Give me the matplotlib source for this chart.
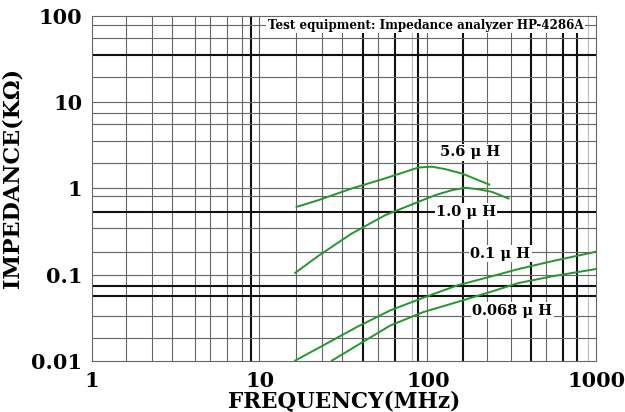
import numpy as np
import matplotlib
matplotlib.use("Agg")
import matplotlib.pyplot as plt

# Courbes d'impédance (MHz, kOhm)
freq_5u6 = [16.5, 22.2, 35.1, 55.5, 73, 87.5, 105, 126, 159, 199, 231]
imp_5u6 = [0.612, 0.731, 1.0, 1.31, 1.56, 1.75, 1.79, 1.68, 1.49, 1.25, 1.11]

freq_1u0 = [16.2, 22.2, 35.1, 55.5, 87.5, 110, 138, 166, 199, 239, 301]
imp_1u0 = [0.105, 0.165, 0.30, 0.49, 0.70, 0.836, 0.955, 1.02, 0.98, 0.915, 0.765]

freq_0u1 = [16.2, 23.7, 37.8, 59.4, 93.4, 149, 234, 343, 547, 1000]
imp_0u1 = [0.0101, 0.0151, 0.0248, 0.0385, 0.054, 0.0751, 0.0948, 0.116, 0.1435, 0.185]

freq_0u068 = [26.8, 37.8, 59.4, 93.4, 149, 234, 343, 547, 1000]
imp_0u068 = [0.0101, 0.0151, 0.0257, 0.0368, 0.0482, 0.063, 0.0798, 0.0958, 0.1165]

curve_labels = ["5.6 μ H", "1.0 μ H", "0.1 μ H", "0.068 μ H"]

x_ticks = [1, 10, 100, 1000]
x_tick_labels = ["1", "10", "100", "1000"]
y_ticks = [0.01, 0.1, 1, 10, 100]
y_tick_labels = ["0.01", "0.1", "1", "10", "100"]

# Quadrillage du papier (lignes fines, épaisses, claires)
x_grid = [1.59, 2.28, 2.99, 4.1, 5.04, 6.36, 7.81, 9.86,
          16.4, 23.4, 30.8, 50.4, 98.6,
          224, 312, 504]
x_grid_thick = [8.84, 41, 63.6, 87.2, 162, 410, 636, 771]
x_grid_light = [80.3, 896]
y_grid = [0.0185, 0.0334, 0.1, 0.185, 0.35, 0.81, 1, 1.95, 3.52, 5.55, 7.45,
          10, 19.5, 55.5, 78.6]
y_grid_thick = [0.057, 0.0745, 0.54, 35.2]

serif = ["DejaVu Serif"]
green = "#1f9a2a"

fig = plt.figure(figsize=(6.25, 4.12), dpi=100)
ax = fig.add_axes([0.147, 0.124, 0.807, 0.837])
ax.set_xscale("log")
ax.set_yscale("log")
ax.set_xlim(1, 1000)
ax.set_ylim(0.01, 100)

for v in x_grid:
    ax.axvline(v, color="#666666", lw=0.8, zorder=1)
for v in x_grid_thick:
    ax.axvline(v, color="#111111", lw=1.5, zorder=1)
for v in x_grid_light:
    ax.axvline(v, color="#bbbbbb", lw=0.8, zorder=1)
for v in y_grid:
    ax.axhline(v, color="#666666", lw=0.8, zorder=1)
for v in y_grid_thick:
    ax.axhline(v, color="#111111", lw=1.5, zorder=1)

for s in ax.spines.values():
    s.set_color("#666666")
    s.set_linewidth(0.8)

ax.plot(freq_5u6, imp_5u6, color=green, lw=1.4, zorder=3)
ax.plot(freq_1u0, imp_1u0, color=green, lw=1.4, zorder=3)
ax.plot(freq_0u1, imp_0u1, color=green, lw=1.4, zorder=3)
ax.plot(freq_0u068, imp_0u068, color=green, lw=1.4, zorder=3)

box = dict(facecolor="white", edgecolor="none", pad=1.0)
label_pos = [(178, 2.62), (168, 0.54), (268, 0.175), (316, 0.038)]
for lab, (lx, ly) in zip(curve_labels, label_pos):
    ax.text(lx, ly, lab, ha="center", va="center", fontsize=10.5,
            family=serif, fontweight="bold", bbox=box, zorder=4)

ax.text(97, 78.6, "Test equipment: Impedance analyzer HP-4286A",
        ha="center", va="center", fontsize=8.6, family=serif,
        fontweight="bold", bbox=dict(facecolor="white", edgecolor="none", pad=1.2),
        zorder=4)

ax.minorticks_off()
ax.set_xticks(x_ticks)
ax.set_xticklabels(x_tick_labels)
ax.set_yticks(y_ticks)
ax.set_yticklabels(y_tick_labels)
ax.tick_params(length=0, pad=7)
for t in ax.get_xticklabels() + ax.get_yticklabels():
    t.set_family(serif)
    t.set_fontweight("bold")
    t.set_fontsize(15)

ax.set_xlabel("FREQUENCY(MHz)", family=serif, fontweight="bold",
              fontsize=15.5, labelpad=0)
ax.set_ylabel("IMPEDANCE(KΩ)", family=serif, fontweight="bold",
              fontsize=16, labelpad=4)
ax.yaxis.set_label_coords(-0.135, 0.53)

fig.savefig("out.png", dpi=100)
